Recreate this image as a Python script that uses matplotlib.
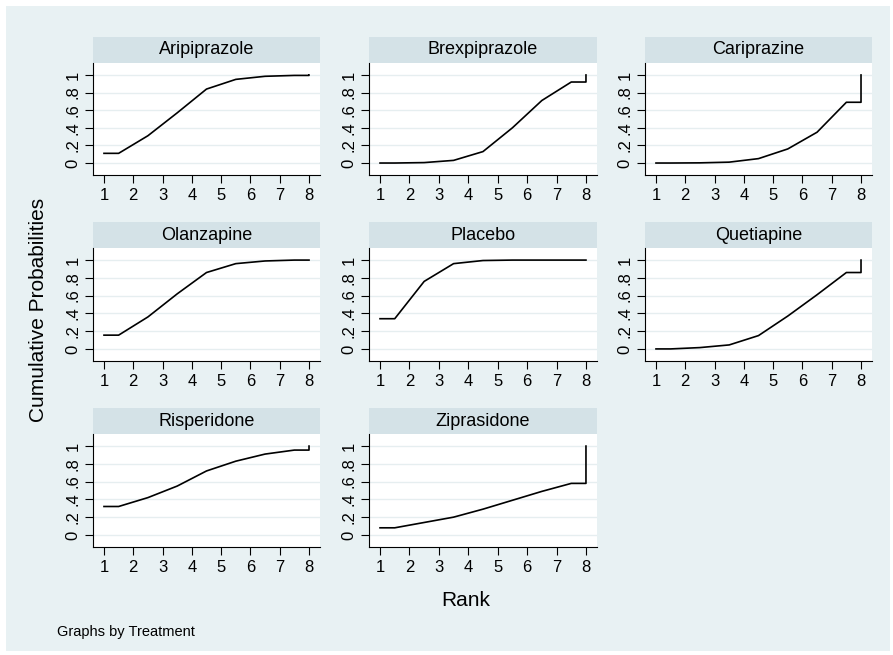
import matplotlib
matplotlib.use("Agg")
import matplotlib.pyplot as plt
from matplotlib.patches import Rectangle

plt.rcParams['font.family'] = ['Liberation Sans', 'DejaVu Sans']

# 累积排名概率 (SUCRA) 数据
treatments = ['Aripiprazole', 'Brexpiprazole', 'Cariprazine',
              'Olanzapine', 'Placebo', 'Quetiapine',
              'Risperidone', 'Ziprasidone']
rank_x = [1, 1.5, 2.5, 3.5, 4.5, 5.5, 6.5, 7.5, 8, 8]

aripiprazole = [0.11, 0.11, 0.31, 0.57, 0.84, 0.95, 0.985, 0.995, 0.995, 1.0]
brexpiprazole = [0.0, 0.0, 0.005, 0.03, 0.13, 0.40, 0.71, 0.92, 0.92, 1.0]
cariprazine = [0.0, 0.0, 0.002, 0.01, 0.05, 0.16, 0.35, 0.69, 0.69, 1.0]
olanzapine = [0.155, 0.155, 0.36, 0.62, 0.86, 0.96, 0.99, 1.0, 1.0, 1.0]
placebo = [0.34, 0.34, 0.76, 0.96, 0.995, 1.0, 1.0, 1.0, 1.0, 1.0]
quetiapine = [0.0, 0.0, 0.015, 0.045, 0.15, 0.37, 0.61, 0.86, 0.86, 1.0]
risperidone = [0.32, 0.32, 0.42, 0.55, 0.72, 0.83, 0.91, 0.955, 0.955, 1.0]
ziprasidone = [0.08, 0.08, 0.14, 0.20, 0.29, 0.39, 0.49, 0.58, 0.58, 1.0]

series = [aripiprazole, brexpiprazole, cariprazine, olanzapine,
          placebo, quetiapine, risperidone, ziprasidone]

x_ticks = [1, 2, 3, 4, 5, 6, 7, 8]
y_ticks = [0, 0.2, 0.4, 0.6, 0.8, 1.0]
y_labels = ['0', '.2', '.4', '.6', '.8', '1']

# 颜色 (Stata s2color)
bg_color = '#e8f1f3'
header_color = '#d4e2e7'
grid_color = '#e6eef0'

W, H = 893, 655
fig = plt.figure(figsize=(W / 100, H / 100), dpi=100)
fig.patch.set_facecolor('white')
fig.add_artist(Rectangle((6 / W, 4 / H), (W - 9) / W, (H - 10) / H,
                         transform=fig.transFigure, facecolor=bg_color,
                         edgecolor='none', zorder=-10))

cols = [(93, 320), (369, 597), (645, 872)]
rows = [(63, 175), (248, 361), (434, 547)]
header_h = 26

for i, (name, vals) in enumerate(zip(treatments, series)):
    r, c = divmod(i, 3)
    x0, x1 = cols[c]
    y0, y1 = rows[r]
    ax = fig.add_axes([x0 / W, 1 - y1 / H, (x1 - x0) / W, (y1 - y0) / H])
    ax.set_facecolor('white')
    ax.plot(rank_x, vals, color='black', lw=1.2, zorder=3)
    ax.set_xlim(0.625, 8.375)
    ax.set_ylim(-0.136, 1.136)
    ax.set_yticks(y_ticks)
    ax.set_yticklabels(y_labels, rotation=90, va='center')
    ax.set_xticks(x_ticks)
    ax.set_xticklabels([str(t) for t in x_ticks])
    ax.tick_params(axis='both', labelsize=12, length=6, width=0.8,
                   direction='out', pad=3)
    ax.grid(axis='y', color=grid_color, lw=1.0)
    ax.set_axisbelow(True)
    for s in ['top', 'right']:
        ax.spines[s].set_visible(False)
    for s in ['left', 'bottom']:
        ax.spines[s].set_linewidth(0.8)
    # 标题栏
    hfrac = header_h / (y1 - y0)
    ax.add_patch(Rectangle((0, 1), 1, hfrac, transform=ax.transAxes,
                           facecolor=header_color, edgecolor='none',
                           clip_on=False))
    ax.text(0.5, 1 + hfrac / 2, name, transform=ax.transAxes,
            ha='center', va='center', fontsize=13)

fig.text(39 / W, 1 - 310 / H, 'Cumulative Probabilities', rotation=90,
         ha='center', va='center', fontsize=15)
fig.text(466 / W, 1 - 600 / H, 'Rank', ha='center', va='center', fontsize=15)
fig.text(57 / W, 1 - 632 / H, 'Graphs by Treatment', ha='left',
         va='center', fontsize=10.5)

fig.savefig('out.png', dpi=100)
